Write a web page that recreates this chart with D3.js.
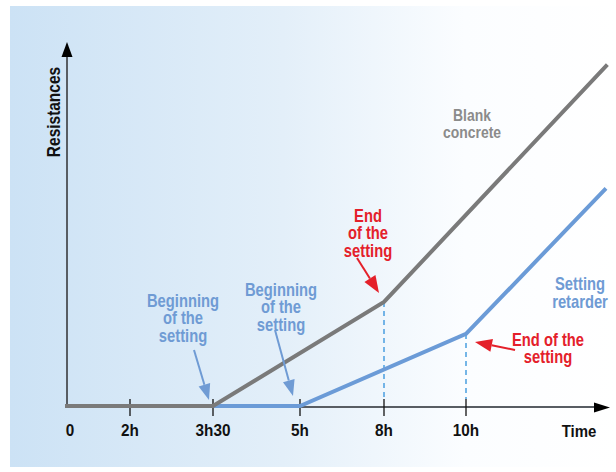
<!DOCTYPE html>
<html lang="en">
<head>
<meta charset="UTF-8">
<title>Resistances vs time</title>
<script src="https://cdn.jsdelivr.net/npm/d3@7"></script>
<style>
  body { margin: 0; background: #fff; }
  text { font-family: "Liberation Sans", Arial, sans-serif; font-weight: bold; }
</style>
</head>
<body>
<svg id="chart" width="616" height="472"></svg>
<script>
// data
const tickLabels = ["0", "2h", "3h30", "5h", "8h", "10h"];
const tickHours = [0, 2, 3.5, 5, 8, 10];
const blankHours = [0, 3.5, 8, 13];
const blankRes = [0, 0, 30.6, 100];
const retarderHours = [3.5, 5, 10, 13];
const retarderRes = [0, 0, 21.2, 64];

const svg = d3.select("#chart");

// background gradient
const defs = svg.append("defs");
const grad = defs.append("linearGradient").attr("id", "bg").attr("x1", "0%").attr("x2", "100%");
grad.append("stop").attr("offset", "0%").attr("stop-color", "#cce2f5");
grad.append("stop").attr("offset", "45%").attr("stop-color", "#e3eff9");
grad.append("stop").attr("offset", "75%").attr("stop-color", "#fbfdff");
grad.append("stop").attr("offset", "100%").attr("stop-color", "#ffffff");
svg.append("rect").attr("x", 10).attr("y", 6).attr("width", 606).attr("height", 461).attr("fill", "url(#bg)");

// scales (time axis is not linear in the original)
const x = d3.scaleLinear()
  .domain([0, 2, 3.5, 5, 8, 10, 13])
  .range([67, 130, 213, 300, 384, 466, 606]);
const y = d3.scaleLinear().domain([0, 100]).range([406, 66]);

const axisColor = "#585d63";

// condensed look: squeeze the text horizontally
function ctext(cx, cy, size, color, lines, lead, sx, rot) {
  const g = svg.append("g").attr("transform", `translate(${cx},${cy}) rotate(${rot || 0}) scale(${sx},1)`);
  const t = g.append("text").attr("text-anchor", "middle").attr("font-size", size).attr("fill", color);
  lines.forEach((s, i) => t.append("tspan").attr("x", 0).attr("y", i * lead).text(s));
  return t;
}

// y axis
svg.append("line").attr("x1", x(0)).attr("x2", x(0)).attr("y1", y(0)).attr("y2", 55)
  .attr("stroke", axisColor).attr("stroke-width", 2);
svg.append("path").attr("d", `M${x(0)},42 L${x(0) - 5.5},57 L${x(0) + 5.5},57 Z`).attr("fill", "#000");
ctext(60, 112, 18, "#111", ["Resistances"], 0, 0.86, -90);

// x axis
svg.append("line").attr("x1", x(0)).attr("x2", 596).attr("y1", 407).attr("y2", 407)
  .attr("stroke", axisColor).attr("stroke-width", 2);
svg.append("path").attr("d", `M610,407.5 L594,402.5 L594,412.5 Z`).attr("fill", "#000");

// dashed guides at end of setting
const guides = [[8, 30.6], [10, 21.2]];
svg.selectAll("line.guide").data(guides).join("line").attr("class", "guide")
  .attr("x1", d => x(d[0])).attr("x2", d => x(d[0]))
  .attr("y1", d => y(d[1])).attr("y2", 399)
  .attr("stroke", "#4a9ee0").attr("stroke-width", 1.5).attr("stroke-dasharray", "5,4");

// ticks
svg.selectAll("line.tick").data(tickHours.slice(1)).join("line").attr("class", "tick")
  .attr("x1", d => x(d)).attr("x2", d => x(d)).attr("y1", 399).attr("y2", 416)
  .attr("stroke", "#111").attr("stroke-width", 1.3);
tickLabels.forEach((s, i) => {
  ctext(i === 0 ? x(tickHours[i]) + 3 : x(tickHours[i]), 436, 17, "#111", [s], 0, 0.9);
});
ctext(579, 437, 17, "#111", ["Time"], 0, 0.88);

// lines
const line = d3.line().x(d => x(d[0])).y(d => y(d[1]));
svg.append("path").datum(d3.zip(retarderHours, retarderRes)).attr("d", line)
  .attr("fill", "none").attr("stroke", "#6b9bd7").attr("stroke-width", 4);
svg.append("path").datum(d3.zip(blankHours, blankRes)).attr("d", line)
  .attr("fill", "none").attr("stroke", "#7a7a7a").attr("stroke-width", 4).attr("stroke-linecap", "square");

// annotations
function arrow(x1, y1, x2, y2, color, head, half) {
  const a = Math.atan2(y2 - y1, x2 - x1);
  const bx = x2 - head * Math.cos(a), by = y2 - head * Math.sin(a);
  svg.append("line").attr("x1", x1).attr("y1", y1).attr("x2", bx).attr("y2", by)
    .attr("stroke", color).attr("stroke-width", 2);
  const px = -Math.sin(a) * half, py = Math.cos(a) * half;
  svg.append("path").attr("d", `M${x2},${y2} L${bx + px},${by + py} L${bx - px},${by - py} Z`).attr("fill", color);
}

const blueText = "#6f9bd4", redText = "#e4202a";
const sq = 0.82;
ctext(183, 307, 18, blueText, ["Beginning", "of the", "setting"], 17.5, sq);
arrow(194, 350, x(3.5) - 4, y(0) - 6, "#6f9bd4", 16, 6);
ctext(281, 296, 18, blueText, ["Beginning", "of the", "setting"], 17.5, sq);
arrow(275, 330, x(5) - 7, y(0) - 10, "#6f9bd4", 16, 6);

ctext(368, 222, 18, redText, ["End", "of the", "setting"], 17.5, sq);
arrow(357, 258, x(8) - 5, y(30.6) - 9, redText, 17, 6.5);
ctext(548, 346, 18, redText, ["End of the", "setting"], 17, sq);
arrow(515, 350, x(10) + 9, y(21.2) + 8, redText, 17, 6.5);

ctext(472, 121, 17, "#8b8b8b", ["Blank", "concrete"], 17.5, sq);
ctext(580, 290, 18, blueText, ["Setting", "retarder"], 18, sq);
</script>
</body>
</html>
